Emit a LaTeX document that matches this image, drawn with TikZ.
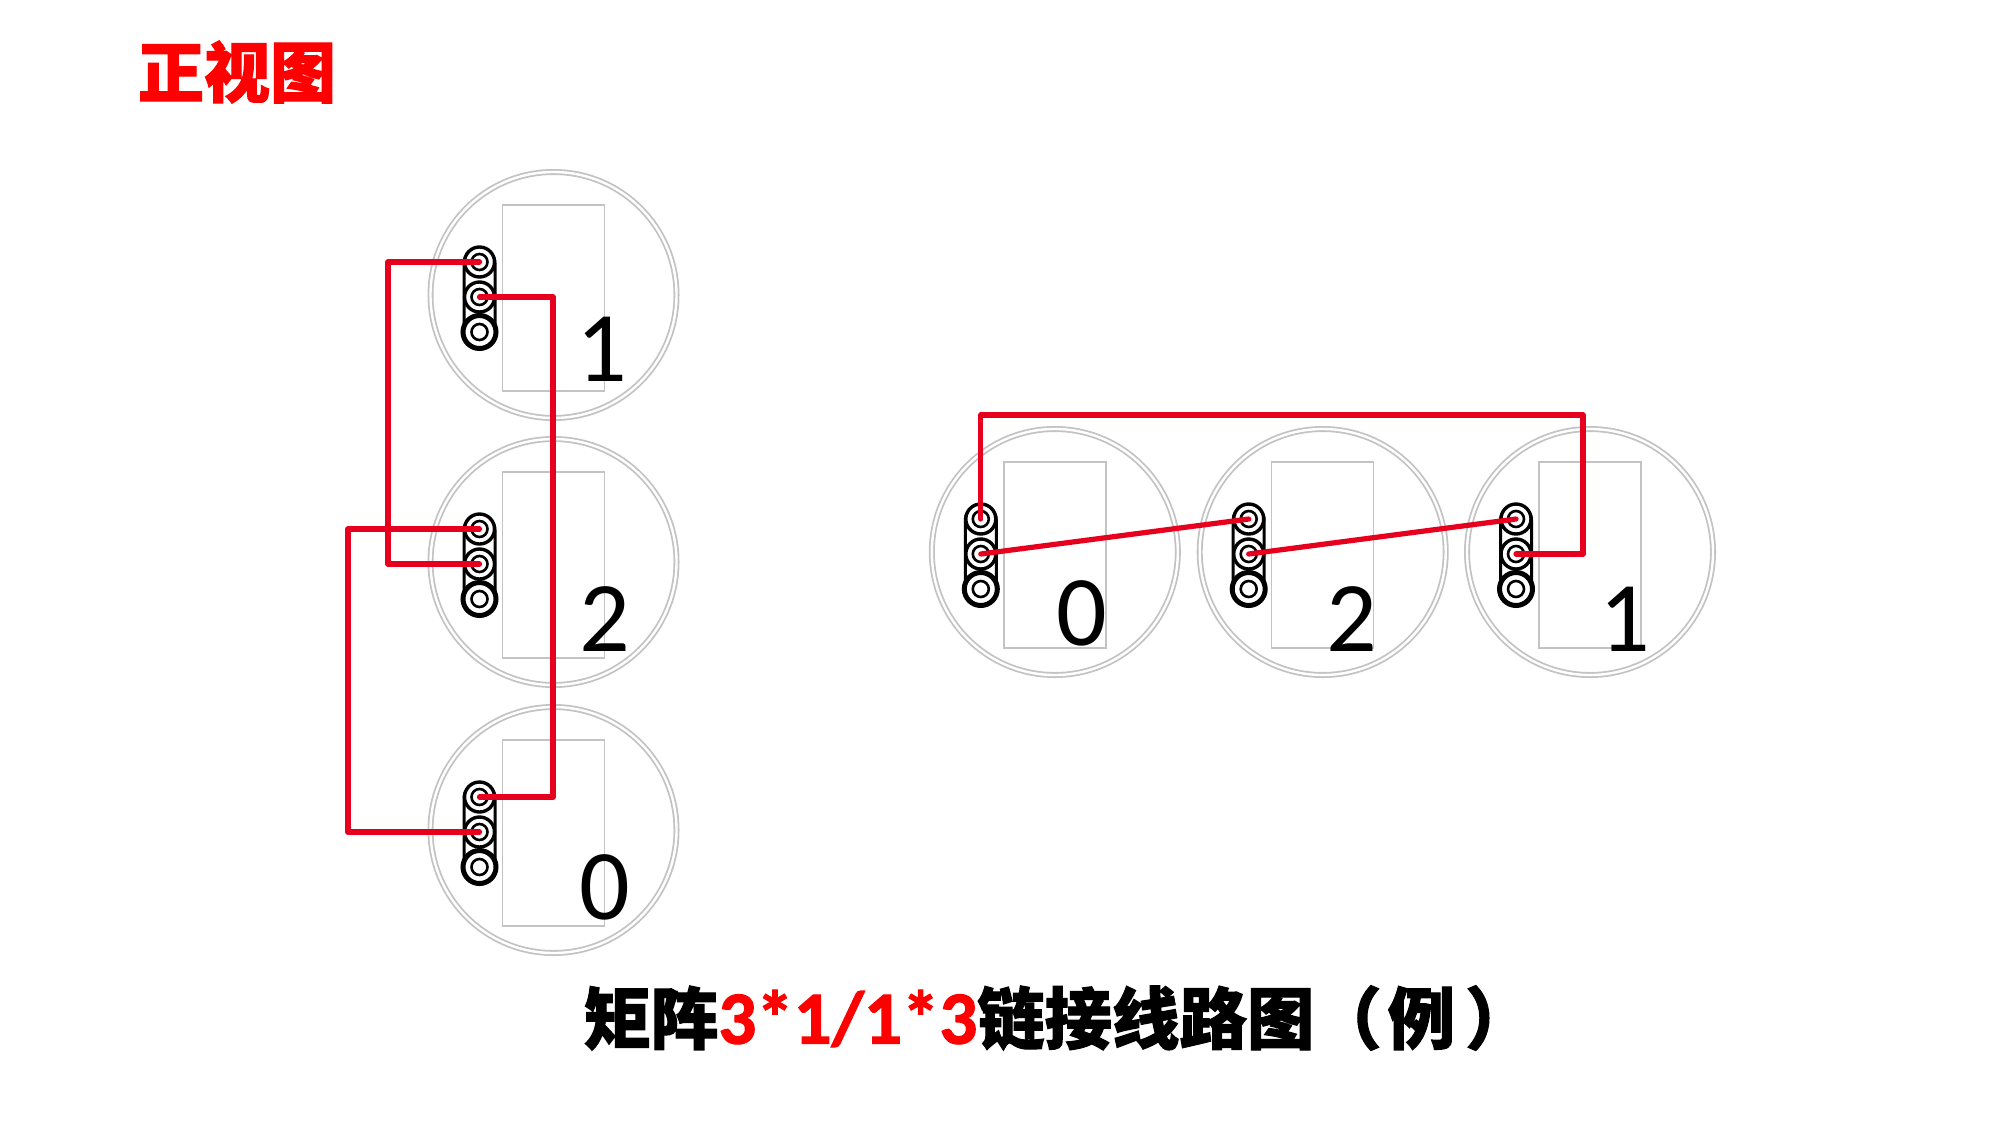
\documentclass[tikz,border=0pt]{standalone}
\usepackage{fontspec}
\setmainfont{Carlito}
\newfontfamily\cjk[BoldFeatures={FakeBold=1.6}]{Noto Sans CJK SC}
\definecolor{wirered}{RGB}{230,0,30}
\definecolor{ringgray}{RGB}{195,195,195}
\begin{document}
\begin{tikzpicture}[
  x=0.5pt,
  y=-0.5pt,
  wire/.style={draw=wirered, line width=2.6pt, line join=round, line cap=round},
  lamp/.style={
    draw=ringgray,
    circle,
    line width=0.9pt,
    double=white,
    double distance=1.2pt,
    minimum size=123pt,
    inner sep=0pt
  },
  panel/.style={
    draw=ringgray,
    line width=0.7pt,
    minimum width=51pt,
    minimum height=93pt,
    inner sep=0pt
  },
  strip/.style={
    draw=black,
    line width=1.5pt,
    rounded corners=7pt,
    minimum width=15.5pt,
    minimum height=48pt,
    inner sep=0pt
  },
  pin/.style={
    draw=black,
    fill=white,
    circle,
    line width=1.7pt,
    minimum size=#1,
    inner sep=0pt
  },
  digit/.style={anchor=base, inner sep=0pt, font=\fontsize{50}{50}\selectfont},
  heading/.style={inner sep=0pt, font=\cjk\bfseries\fontsize{33.7}{34}\selectfont}
]
  \useasboundingbox (0,0) rectangle (2000,1125);
  \node[heading, text=red, font=\cjk\bfseries\fontsize{33}{33}\selectfont] (title) at (237,72) {正视图};
  \foreach \name/\x/\y/\digitX/\digitY/\digitText in {
    a/553.5/295/602/381/1, b/553.5/562/605/651/2, c/553.5/830/605/919/0,
    d/1054.8/552/1082/645/0, e/1322.7/552/1352/651/2, f/1590/552/1625/651/1
  } {
    \node[lamp] (lamp\name) at (\x,\y) {};
    \node[panel] (panel\name) at (\x,\y+3) {};
    \node[strip] (strip\name) at (\x-74,\y+2) {};
    \node[pin=15pt] (\name1) at (\x-74,\y-33) {};
    \node[pin=15pt] (\name2) at (\x-74,\y+2) {};
    \node[pin=16.5pt, line width=2.5pt] (\name3) at (\x-74,\y+37) {};
    \foreach \k in {1,2,3} {
      \node[pin=8pt, line width=1.3pt] (\name\k in) at (\name\k) {};
    }
    \node[digit] (digit\name) at (\digitX,\digitY) {\digitText};
  }
  % left column
  \coordinate (ab1) at (388,0);
  \coordinate (ab2) at (553,0);
  \coordinate (bc1) at (348,0);
  \draw[wire] (a1.center) -- (ab1 |- a1.center) -- (ab1 |- b2.center) -- (b2.center);
  \draw[wire] (a2.center) -- (ab2 |- a2.center) -- (ab2 |- c1.center) -- (c1.center);
  \draw[wire] (b1.center) -- (bc1 |- b1.center) -- (bc1 |- c2.center) -- (c2.center);
  % right row
  \coordinate (top) at (0,415);
  \coordinate (drop) at (1583,0);
  \draw[wire] (d1.center) -- (d1.center |- top) -- (drop |- top) -- (drop |- f2.center) -- (f2.center);
  \draw[wire] (d2.center) -- (e1.center);
  \draw[wire] (e2.center) -- (f1.center);
  \node[heading] (caption) at (1058,1018) {矩阵{\color{red}\fontspec{Carlito}[FakeBold=1.6]\fontsize{37.5}{38}\selectfont 3*1/1*3}链接线路图（\hspace{3pt}例\hspace{5pt}）};
\end{tikzpicture}
\end{document}
